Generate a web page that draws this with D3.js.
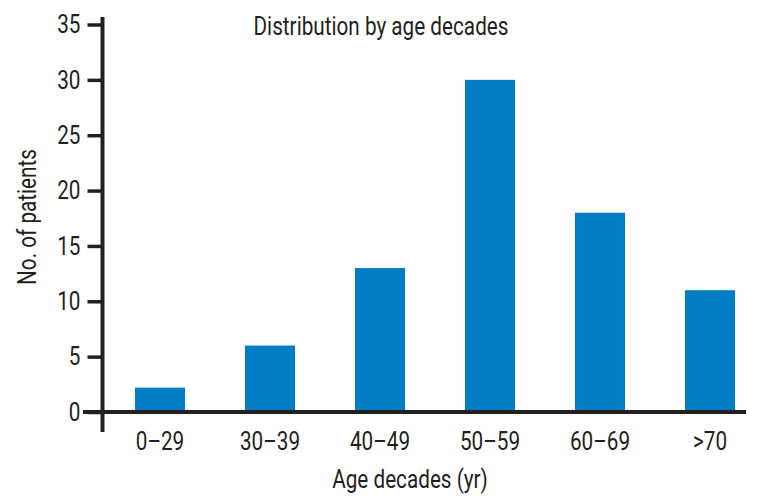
<!DOCTYPE html>
<html><head><meta charset="utf-8">
<script src="https://cdn.jsdelivr.net/npm/d3@7"></script>
<style>
body{margin:0;background:#fff;}
text{font-family:Roboto,"Liberation Sans",sans-serif;font-weight:400;fill:#231f20;}
</style></head>
<body><svg id="c" width="758" height="500"></svg>
<script>
const categories = ["0\u201329","30\u201339","40\u201349","50\u201359","60\u201369",">70"];
const patients = [2.2, 6, 13, 30, 18, 11];
const yTicks = [0,5,10,15,20,25,30,35];
const title = "Distribution by age decades";
const xTitle = "Age decades (yr)";
const yTitle = "No. of patients";

const svg = d3.select("#c");
const x = d3.scaleBand().domain(categories).range([105,765]).paddingInner(60/110).paddingOuter(30/110);
const y = d3.scaleLinear().domain([0,35]).range([412,24.5]);
const ink = "#231f20";
const FS = 26;

// measure condensing factor so title matches reference width
const probe = svg.append("text").attr("font-size",FS).text(title);
const S = 255 / probe.node().getComputedTextLength();
probe.remove();

function label(parent, str, px, py, anchor, rot){
  const g = parent.append("g").attr("transform",`translate(${px},${py})` + (rot?` rotate(${rot})`:""));
  g.append("text").attr("transform",`scale(${S},1)`).attr("text-anchor",anchor)
   .attr("font-size",FS).text(str);
  return g;
}

svg.selectAll("rect.bar").data(patients).join("rect")
  .attr("class","bar")
  .attr("x",(d,i)=>x(categories[i]))
  .attr("width",x.bandwidth())
  .attr("y",d=>y(d))
  .attr("height",d=>y(0)-y(d))
  .attr("fill","#007dc5");

// y axis
const yAxis = svg.append("g").attr("transform","translate(102.5,0)")
  .call(d3.axisLeft(y).tickValues(yTicks).tickSize(15).tickPadding(7));
yAxis.select(".domain").remove();
yAxis.selectAll(".tick line").attr("stroke",ink).attr("stroke-width",3.5);
yAxis.selectAll(".tick text").attr("font-size",FS).attr("fill",ink)
  .attr("font-family",null).attr("x",-22/S).attr("transform",`scale(${S},1)`);
svg.append("line").attr("x1",102.5).attr("x2",102.5).attr("y1",17).attr("y2",432)
  .attr("stroke",ink).attr("stroke-width",4);

// x axis
svg.append("line").attr("x1",83).attr("x2",746).attr("y1",y(0)).attr("y2",y(0))
  .attr("stroke",ink).attr("stroke-width",4);
const xAxis = svg.append("g").attr("transform",`translate(0,${y(0)})`)
  .call(d3.axisBottom(x).tickSize(0).tickPadding(20));
xAxis.select(".domain").remove();
xAxis.selectAll(".tick text").attr("font-size",FS).attr("fill",ink)
  .attr("font-family",null).attr("transform",`scale(${S},1)`);

label(svg, title, 381, 35, "middle");
label(svg, xTitle, 410, 488, "middle");
label(svg, yTitle, 36, 217, "middle", -90);
</script></body></html>
